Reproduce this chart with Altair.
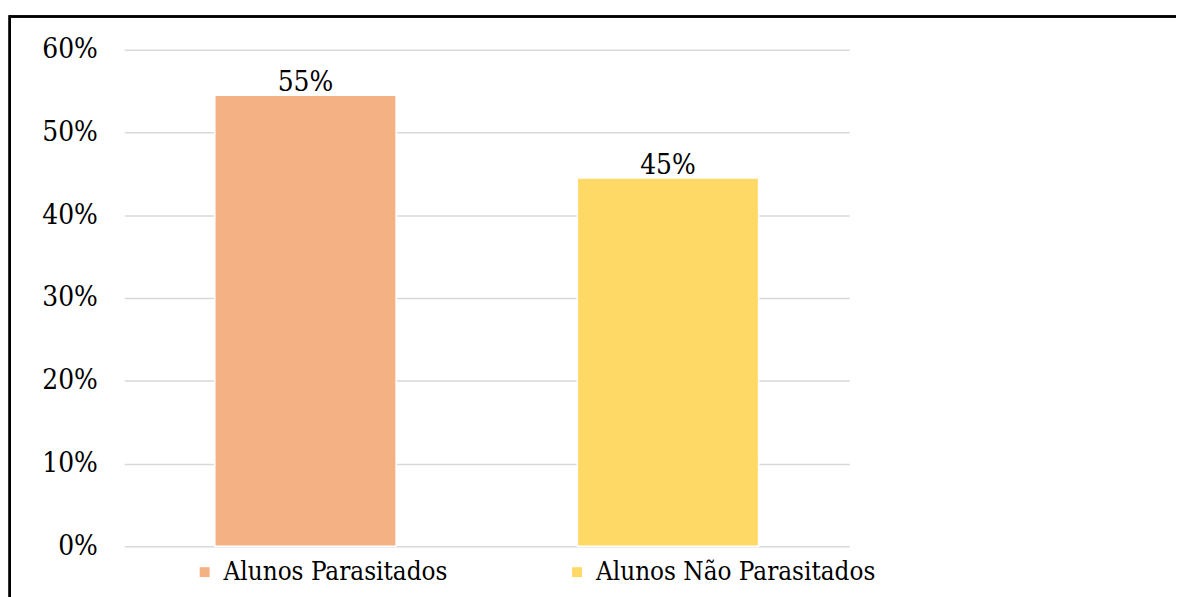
import altair as alt
import pandas as pd

categories = ["Alunos Parasitados", "Alunos Não Parasitados"]
values = [0.545, 0.445]
labels = ["55%", "45%"]
colors = ["#F4B183", "#FFD966"]

df = pd.DataFrame({"cat": categories, "val": values, "lab": labels})

FONT = "DejaVu Serif Condensed"
FS = 28

x = alt.X("cat:N", sort=categories, axis=None,
          scale=alt.Scale(paddingInner=0.5, paddingOuter=0.25))
y = alt.Y("val:Q", scale=alt.Scale(domain=[0, 0.6], nice=False),
          axis=alt.Axis(format=".0%", values=[0, 0.1, 0.2, 0.3, 0.4, 0.5, 0.6],
                        title=None, domain=False, ticks=False,
                        labelFont=FONT, labelFontSize=FS, labelColor="#000000",
                        labelPadding=27, gridColor="#D9D9D9", gridWidth=1.5))

bars = alt.Chart(df).mark_bar(stroke="white", strokeWidth=1.5).encode(
    x=x, y=y,
    color=alt.Color("cat:N", sort=categories,
                    scale=alt.Scale(domain=categories, range=colors),
                    legend=alt.Legend(title=None, orient="none", direction="horizontal",
                                      legendX=68, legendY=513, symbolType="square",
                                      symbolSize=100, symbolStrokeWidth=0,
                                      labelFont=FONT, labelFontSize=26,
                                      labelColor="#000000", labelOffset=6,
                                      columnPadding=117, labelLimit=400)),
)

text = alt.Chart(df).mark_text(font=FONT, fontSize=FS, baseline="bottom",
                               dy=2, color="#000000").encode(
    x=alt.X("cat:N", sort=categories, axis=None), y="val:Q", text="lab:N")

border_top = alt.Chart(df).mark_rule(color="#000000", strokeWidth=2.5).encode(
    x=alt.value(-116), x2=alt.value(1060), y=alt.value(-33.5))
border_left = alt.Chart(df).mark_rule(color="#000000", strokeWidth=2.5).encode(
    x=alt.value(-115.3), y=alt.value(-34.7), y2=alt.value(600))

chart = alt.layer(bars, text, border_top, border_left).properties(
    width=730, height=500,
    autosize=alt.AutoSizeParams(type="none"),
    padding={"left": 117, "top": 40, "right": 329, "bottom": 49},
    background="white",
).configure_view(strokeWidth=0)

chart.save("out.html", embed_options={"renderer": "svg", "actions": False})
